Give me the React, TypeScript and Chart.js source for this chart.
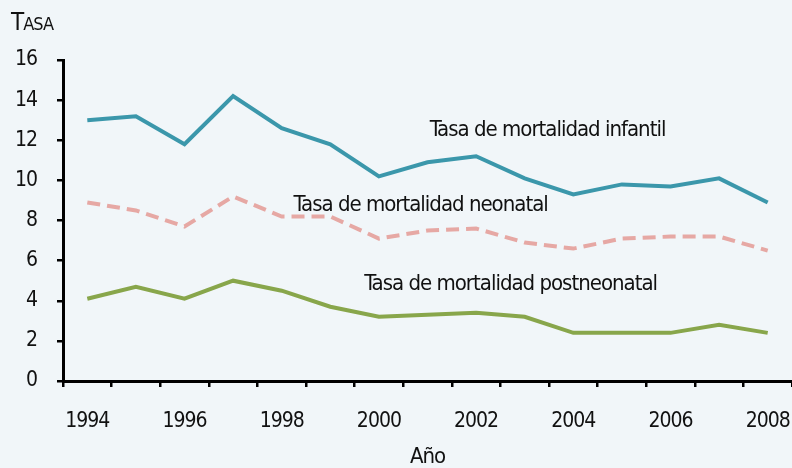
import React, { useEffect, useRef } from "react";
import { Chart, registerables } from "chart.js";

Chart.register(...registerables);

const years = ["1994","1995","1996","1997","1998","1999","2000","2001","2002","2003","2004","2005","2006","2007","2008"];
const infantil = [13.0, 13.2, 11.8, 14.2, 12.6, 11.8, 10.2, 10.9, 11.2, 10.1, 9.3, 9.8, 9.7, 10.1, 8.9];
const neonatal = [8.9, 8.5, 7.7, 9.2, 8.2, 8.2, 7.1, 7.5, 7.6, 6.9, 6.6, 7.1, 7.2, 7.2, 6.5];
const postneonatal = [4.1, 4.7, 4.1, 5.0, 4.5, 3.7, 3.2, 3.3, 3.4, 3.2, 2.4, 2.4, 2.4, 2.8, 2.4];

const seriesNames = ["Tasa de mortalidad infantil", "Tasa de mortalidad neonatal", "Tasa de mortalidad postneonatal"];
// label anchor positions (text centre, baseline) in data coordinates: fractional category index, value
const labelIndex = [9.47, 6.86, 8.71];
const labelValue = [12.21, 8.49, 4.54];

const yAxisTitle = "Tasa";
const xAxisTitle = "Año";

const FONT = "'DejaVu Sans Condensed', 'DejaVu Sans', sans-serif";
const BG = "#f1f6f9";
const COLORS = ["#3b97ab", "#e6a8a4", "#88a64b"];

const spacingPlugin = {
  id: "spacing",
  beforeUpdate(chart: any) { chart.ctx.letterSpacing = "-1px"; },
  beforeLayout(chart: any) { chart.ctx.letterSpacing = "-1px"; },
  beforeDraw(chart: any) { chart.ctx.letterSpacing = "-1px"; },
};

const annotationPlugin = {
  id: "annot",
  afterDatasetsDraw(chart: any) {
    const { ctx, scales } = chart;
    ctx.save();
    ctx.letterSpacing = "-1px";
    ctx.fillStyle = "#111";
    ctx.font = `22px ${FONT}`;
    ctx.textAlign = "center";
    ctx.textBaseline = "alphabetic";
    seriesNames.forEach((t, i) => {
      const x = scales.x.getPixelForValue(labelIndex[i]);
      const y = scales.y.getPixelForValue(labelValue[i]);
      ctx.fillText(t, x, y);
    });
    // Small-caps y-axis title
    ctx.textAlign = "left";
    const first = yAxisTitle.charAt(0).toUpperCase();
    const rest = yAxisTitle.slice(1).toUpperCase();
    ctx.font = `24px ${FONT}`;
    ctx.fillText(first, 11, 30);
    const w = ctx.measureText(first).width;
    ctx.font = `18px ${FONT}`;
    ctx.fillText(rest, 11 + w, 30);
    ctx.restore();
  },
};

export default function App() {
  const ref = useRef<HTMLCanvasElement>(null);
  useEffect(() => {
    document.body.style.margin = "0";
    const chart = new Chart(ref.current!, {
      type: "line",
      data: {
        labels: years,
        datasets: [
          { label: seriesNames[0], data: infantil, borderColor: COLORS[0], borderWidth: 4, pointRadius: 0, tension: 0 },
          { label: seriesNames[1], data: neonatal, borderColor: COLORS[1], borderWidth: 4, borderDash: [13, 7], pointRadius: 0, tension: 0 },
          { label: seriesNames[2], data: postneonatal, borderColor: COLORS[2], borderWidth: 4, pointRadius: 0, tension: 0 },
        ],
      },
      options: {
        animation: false,
        responsive: false,
        layout: { padding: { top: 60, left: 0, right: 0, bottom: 0 } },
        plugins: { legend: { display: false }, tooltip: { enabled: false } },
        scales: {
          x: {
            type: "category",
            offset: true,
            grid: { display: true, offset: true, drawOnChartArea: false, drawTicks: true, tickLength: 6, color: "#000", lineWidth: 2.5 },
            border: { display: true, color: "#000", width: 3 },
            ticks: {
              autoSkip: false,
              maxRotation: 0,
              padding: 22,
              color: "#111",
              font: { family: FONT, size: 21 },
              callback: (_v: any, i: number) => (i % 2 === 0 ? years[i] : ""),
            },
            title: { display: true, text: xAxisTitle, color: "#111", font: { family: FONT, size: 22, lineHeight: 1 }, padding: { top: 0, bottom: 0 } },
            afterFit: (s: any) => { s.height = 87; s.paddingLeft = 0; s.paddingRight = 0; },
          },
          y: {
            min: 0,
            max: 16,
            grid: { display: true, drawOnChartArea: false, drawTicks: true, tickLength: 6, color: "#000", lineWidth: 2.5 },
            border: { display: true, color: "#000", width: 3 },
            ticks: { stepSize: 2, padding: 20, color: "#111", font: { family: FONT, size: 21 } },
            afterFit: (s: any) => { s.width = 63; s.paddingTop = 0; s.paddingBottom = 0; },
          },
        },
      },
      plugins: [spacingPlugin, annotationPlugin],
    });
    return () => chart.destroy();
  }, []);
  return (
    <div style={{ width: 792, height: 468, background: BG }}>
      <canvas ref={ref} width={792} height={468} />
    </div>
  );
}
